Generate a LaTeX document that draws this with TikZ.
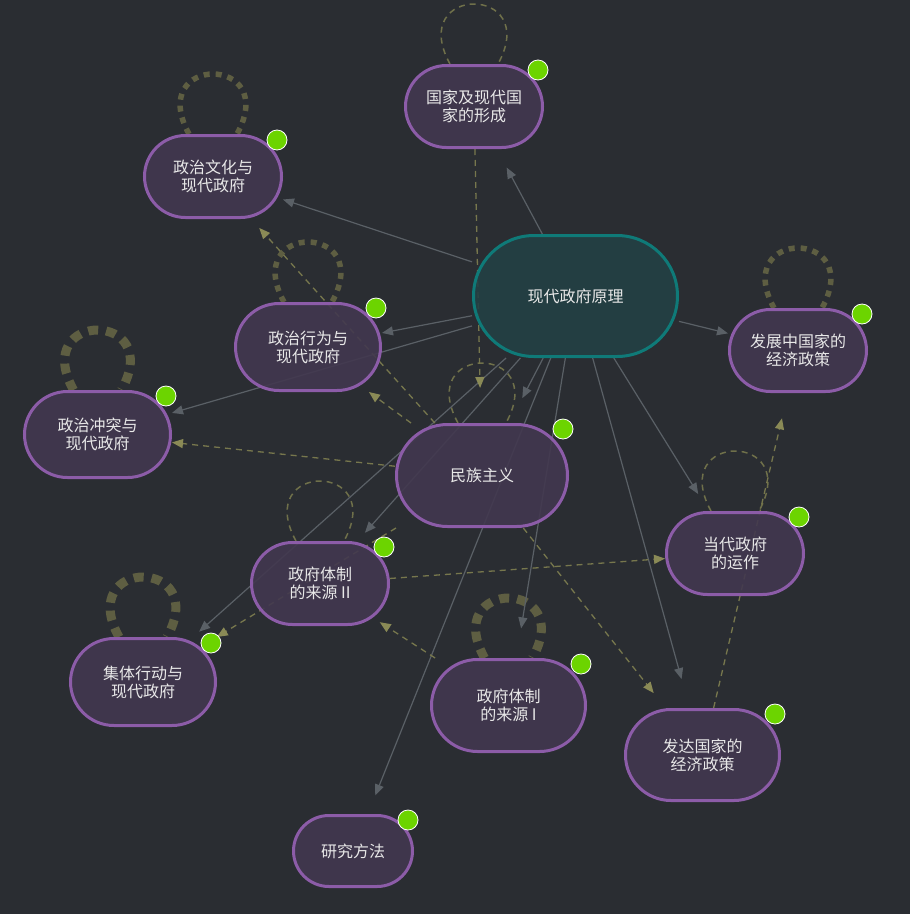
\documentclass[tikz,border=0pt]{standalone}
\usepackage{fontspec}
\newfontfamily\cjk{Noto Sans CJK SC}
\usetikzlibrary{arrows.meta}

\definecolor{bgcol}{HTML}{2A2D32}
\definecolor{nodefill}{HTML}{42384F}
\definecolor{nodeborder}{HTML}{8C5CA8}
\definecolor{rootfill}{HTML}{234044}
\definecolor{rootborder}{HTML}{0F7A78}
\definecolor{nodetext}{HTML}{E8E8E8}
\definecolor{edgegray}{HTML}{5A6066}
\definecolor{olive}{HTML}{77774D}
\definecolor{olivetip}{HTML}{8A8A56}
\definecolor{loopcol}{HTML}{5E5E42}
\definecolor{dotgreen}{HTML}{6CD400}

\pgfdeclarelayer{back}
\pgfdeclarelayer{edges}
\pgfsetlayers{back,edges,main}

\begin{document}
\begin{tikzpicture}[x=1pt,y=1pt,
	topic/.style n args={3}{draw=nodeborder,fill=nodefill,line width=3pt,
		rounded corners=#3pt,minimum width=#1pt,minimum height=#2pt,inner sep=0pt,
		align=center,font=\cjk\fontsize{16}{18}\selectfont,text=nodetext,
		fill opacity=0.9,text opacity=1,draw opacity=1},
	link/.style={draw=edgegray,line width=1.2pt,-{Triangle[length=11pt,width=9pt]}},
	dlink/.style={draw=olive,line width=1.3pt,dash pattern=on 6pt off 5pt,
		-{Triangle[length=11pt,width=9pt,color=olivetip]}},
	loopthin/.style={draw=olive!90!bgcol,line width=1.5pt,dash pattern=on 6pt off 5pt},
	loopmid/.style={draw=loopcol,line width=5.5pt,dash pattern=on 6pt off 6pt},
	loopthick/.style={draw=loopcol,line width=9pt,dash pattern=on 10pt off 8pt},
	gdot/.style={circle,fill=dotgreen,draw=white,line width=0.8pt,minimum size=20pt,inner sep=0pt}]
	
	\begin{pgfonlayer}{back}
		\fill[bgcol] (0,0) rectangle (910,-914);
	\end{pgfonlayer}
	\useasboundingbox (0,0) rectangle (910,-914);
	
	\node[topic={204}{121}{60.5},fill=rootfill,draw=rootborder] (root) at (575.5,-296) {现代政府原理};
	\node[topic={137}{82}{41}] (guojia) at (474,-106.5) {国家及现代国\\家的形成};
	\node[topic={137}{82}{41}] (wenhua) at (213,-176.5) {政治文化与\\现代政府};
	\node[topic={145}{87}{43.5}] (xingwei) at (308,-347) {政治行为与\\现代政府};
	\node[topic={137}{82}{41}] (fazhan) at (798,-350.5) {发展中国家的\\经济政策};
	\node[topic={146}{86}{43}] (chongtu) at (97.5,-434.5) {政治冲突与\\现代政府};
	\node[topic={171}{102}{51}] (minzu) at (482,-475.5) {民族主义};
	\node[topic={137}{82}{41}] (dangdai) at (735,-553.5) {当代政府\\的运作};
	\node[topic={137}{82}{41}] (laiyuan2) at (320,-583.5) {政府体制\\的来源 II};
	\node[topic={145}{87}{43.5}] (jiti) at (143,-682) {集体行动与\\现代政府};
	\node[topic={154}{92}{46}] (laiyuan1) at (508.5,-705.5) {政府体制\\的来源 I};
	\node[topic={154}{91}{45.5}] (fada) at (702.5,-755) {发达国家的\\经济政策};
	\node[topic={119}{71}{35.5}] (yanjiu) at (353,-851) {研究方法};
	
	\foreach \n in {guojia,wenhua,xingwei,fazhan,chongtu,minzu,dangdai,laiyuan2,jiti,laiyuan1,fada,yanjiu}
	\node[gdot] (dot-\n) at ([shift={(-6,-6)}]\n.north east) {};
	
	\begin{pgfonlayer}{edges}
		% self loops
		\foreach \n in {guojia,minzu,dangdai,laiyuan2}
		\draw[loopthin] ([xshift=-24pt]\n.north) .. controls +(-44,80) and +(44,80) .. ([xshift=24pt]\n.north);
		\foreach \n in {wenhua,xingwei,fazhan}
		\draw[loopmid] ([xshift=-24pt]\n.north) .. controls +(-44,80) and +(44,80) .. ([xshift=24pt]\n.north);
		\foreach \n in {chongtu,jiti,laiyuan1}
		\draw[loopthick] ([xshift=-24pt]\n.north) .. controls +(-44,80) and +(44,80) .. ([xshift=24pt]\n.north);
		
		% from the root
		\draw[link,shorten >=21pt] (root) -- (guojia);
		\draw[link] (root) -- (wenhua);
		\draw[link] (root) -- (xingwei);
		\draw[link] (root) -- (chongtu);
		\draw[link] (root) -- (fazhan);
		\draw[link,shorten >=28pt] (root) -- (minzu);
		\draw[link,shorten >=11pt] (root) -- (laiyuan2);
		\draw[link,shorten >=8pt] (root) -- (jiti);
		\draw[link,shorten >=30pt] (root) -- (laiyuan1);
		\draw[link,shorten >=20pt] (root) -- (dangdai);
		\draw[link,shorten >=30pt] (root) -- (fada);
		\draw[link,shorten >=20pt] (root) -- (yanjiu);
		
		% dashed ones
		\draw[dlink,shorten >=35pt] (guojia) -- (minzu);
		\draw[dlink,shorten >=12pt] (minzu) -- (wenhua);
		\draw[dlink] (minzu) -- (xingwei);
		\draw[dlink] (minzu) -- (chongtu);
		\draw[dlink] (minzu) -- (jiti);
		\draw[dlink,shorten >=19pt] (minzu) -- (fada);
		\draw[dlink] (laiyuan2) -- (dangdai);
		\draw[dlink,shorten >=-7pt] (laiyuan1) -- (laiyuan2);
		\draw[dlink,shorten >=26pt] (fada) -- (fazhan);
	\end{pgfonlayer}
	
\end{tikzpicture}
\end{document}
